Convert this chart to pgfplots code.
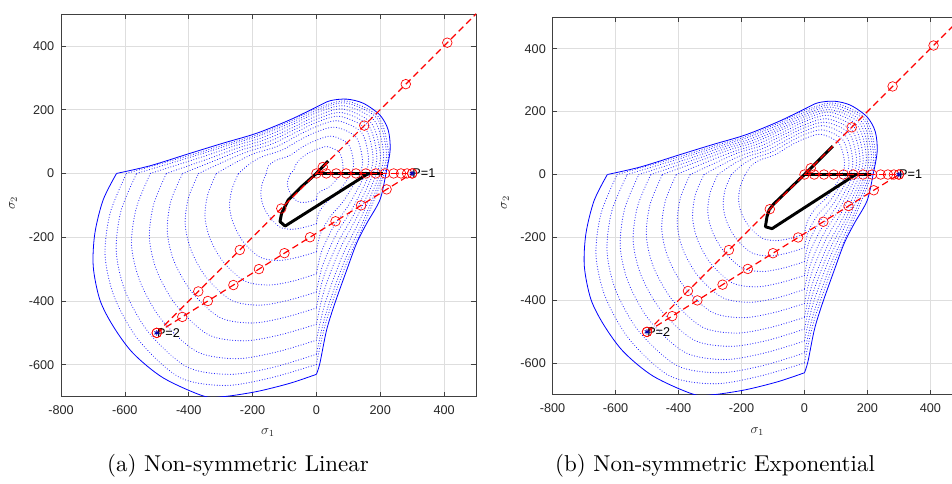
\documentclass[border=0pt]{standalone}
\usepackage{fontspec}
\usepackage{pgfplots}
\pgfplotsset{compat=1.18}
\usepackage{pgfplotstable}
\newfontfamily\helv{Liberation Sans}

% outer boundary, upper/right part and lower-left part
\pgfplotstableread{
x y
-626 0
-521 24
-396 63
-292 95
-187 126
-83 168
0 208
43 228
95 233
147 220
199 183
225 136
231 74
218 0
199 -83
158 -156
126 -219
95 -303
58 -407
32 -491
11 -595
0 -630
}\outerA
\pgfplotstableread{
x y
0 -630
-83 -658
-187 -684
-292 -700
-354 -698
-480 -641
-574 -564
-636 -480
-678 -397
-699 -292
-694 -188
-668 -83
-626 0
}\outerB
% load paths
\pgfplotstableread{
x y
-500 -500
-370 -370
-240 -240
-110 -110
20 20
150 150
280 280
410 410
540 540
}\redDiag
\pgfplotstableread{
x y
-500 -500
-420 -450
-340 -400
-260 -350
-180 -300
-100 -250
-20 -200
60 -150
140 -100
220 -50
300 0
}\redSlope
\pgfplotstableread{
x y
0 0
31 0
62 0
93 0
124 0
155 0
186 0
215 0
242 0
265 0
284 0
300 0
}\redFlat

\pgfplotsset{
  mlab/.style={
    scale only axis,
    xmin=-800, xmax=500, ymin=-700, ymax=500,
    xtick={-800,-600,...,400}, ytick={-600,-400,...,400},
    grid=major,
    grid style={draw=black!13, line width=0.45pt},
    axis line style={draw=black!75, line width=0.5pt},
    every tick/.style={draw=black!75, line width=0.5pt},
    major tick length=3.5pt,
    tick align=inside,
    ticklabel style={font=\helv\fontsize{9.5}{10}\selectfont, text=black!85},
    xticklabel style={yshift=-3pt},
    yticklabel style={xshift=-1.5pt},
    /pgf/number format/assume math mode=true,
  },
  cont/.style={blue!85, line width=0.85pt, line cap=round, dash pattern=on 0.01pt off 2pt, smooth, no marks},
  bnd/.style={blue, line width=0.6pt, smooth, no marks},
  blk/.style={black, line width=2.2pt, line join=round, no marks},
  rpath/.style={red, line width=0.9pt, dash pattern=on 5pt off 3pt, mark=o, mark size=3.6pt, mark options={solid, line width=0.5pt}},
  pmark/.style={only marks, blue!70!black, mark=asterisk, mark size=2pt, mark options={line width=0.7pt}},
}
\tikzset{plab/.style={anchor=west, inner sep=0pt, font=\helv\fontsize{9.5}{10}\selectfont}}

\begin{document}
\begin{tikzpicture}
\useasboundingbox (0,0) rectangle (714pt,363pt);
\clip (0,0) rectangle (714pt,363pt);

% ---------------- (a) linear
\begin{axis}[mlab, at={(45.75pt,65.5pt)}, anchor=south west, width=311.25pt, height=287pt]
\addplot[cont] coordinates {(-81,0)(-70,11)(-67,22)(-57,39)(-30,61)(0,75)(34,84)(72,66)(83,27)(79,0)(42,-41)(17,-54)(4,-64)(0,-82)};
\addplot[cont] coordinates {(0,-82)(-20,-88)(-39,-91)(-59,-88)(-76,-72)(-86,-53)(-91,-35)(-88,-17)(-81,0)};
\addplot[cont] coordinates {(-157,0)(-150,24)(-127,41)(-84,56)(-42,84)(0,104)(48,117)(100,92)(116,37)(109,0)(64,-63)(29,-93)(8,-123)(0,-158)};
\addplot[cont] coordinates {(0,-158)(-38,-169)(-75,-175)(-113,-169)(-146,-138)(-166,-103)(-174,-68)(-170,-33)(-157,0)};
\addplot[cont] coordinates {(-244,0)(-205,33)(-166,54)(-108,73)(-52,105)(0,130)(59,145)(124,114)(144,46)(136,0)(86,-85)(43,-136)(12,-191)(0,-246)};
\addplot[cont] coordinates {(0,-246)(-59,-263)(-117,-273)(-176,-263)(-228,-216)(-259,-160)(-272,-106)(-265,-51)(-244,0)};
\addplot[cont] coordinates {(-313,0)(-244,39)(-193,63)(-125,84)(-59,119)(0,147)(67,165)(141,129)(163,52)(154,0)(101,-99)(53,-168)(16,-246)(0,-315)};
\addplot[cont] coordinates {(0,-315)(-75,-338)(-150,-350)(-225,-337)(-292,-277)(-333,-205)(-349,-136)(-340,-65)(-313,0)};
\addplot[cont] coordinates {(-369,0)(-274,44)(-213,69)(-138,93)(-64,129)(0,160)(73,179)(153,141)(177,57)(167,0)(112,-111)(61,-193)(19,-290)(0,-372)};
\addplot[cont] coordinates {(0,-372)(-89,-398)(-177,-413)(-266,-398)(-345,-326)(-392,-242)(-411,-160)(-401,-77)(-369,0)};
\addplot[cont] coordinates {(-419,0)(-299,48)(-230,75)(-148,100)(-68,138)(0,170)(78,191)(163,150)(189,61)(178,0)(122,-120)(68,-216)(21,-329)(0,-422)};
\addplot[cont] coordinates {(0,-422)(-101,-452)(-201,-469)(-302,-452)(-391,-371)(-446,-275)(-467,-182)(-456,-87)(-419,0)};
\addplot[cont] coordinates {(-470,0)(-324,51)(-246,80)(-158,107)(-72,145)(0,180)(82,202)(172,158)(200,64)(189,0)(131,-129)(74,-237)(24,-368)(0,-473)};
\addplot[cont] coordinates {(0,-473)(-113,-506)(-225,-525)(-338,-506)(-438,-415)(-499,-308)(-523,-203)(-510,-98)(-470,0)};
\addplot[cont] coordinates {(-520,0)(-348,55)(-261,85)(-168,113)(-76,153)(0,190)(87,212)(181,167)(210,67)(199,0)(140,-138)(81,-259)(27,-408)(0,-523)};
\addplot[cont] coordinates {(0,-523)(-125,-560)(-249,-581)(-374,-559)(-485,-459)(-552,-340)(-579,-225)(-564,-108)(-520,0)};
\addplot[cont] coordinates {(-563,0)(-368,59)(-274,89)(-176,119)(-79,159)(0,197)(90,221)(189,174)(219,70)(207,0)(148,-146)(87,-277)(29,-442)(0,-567)};
\addplot[cont] coordinates {(0,-567)(-135,-608)(-270,-630)(-405,-607)(-526,-498)(-599,-369)(-627,-244)(-612,-117)(-563,0)};
\addplot[cont] coordinates {(-595,0)(-382,61)(-283,92)(-182,122)(-81,164)(0,203)(93,227)(194,178)(225,72)(213,0)(153,-151)(91,-290)(30,-466)(0,-599)};
\addplot[cont] coordinates {(0,-599)(-143,-641)(-285,-665)(-428,-640)(-555,-525)(-632,-390)(-662,-257)(-646,-124)(-595,0)};
\addplot[bnd] table {\outerA};
\addplot[bnd] table {\outerB};
\addplot[blk] coordinates {(37,39)(0,0)(-46,-41)(-88,-83)(-109,-125)(-114,-151)(-98,-165)(163,0)};
\addplot[blk] coordinates {(0,0)(210,0)};
\addplot[rpath] table {\redDiag};
\addplot[rpath] table {\redSlope};
\addplot[rpath] table {\redFlat};
\addplot[pmark] coordinates {(300,0)(-500,-500)};
\node[plab] at (axis cs:300,0) {P=1};
\node[plab] at (axis cs:-500,-500) {P=2};
\end{axis}

% ---------------- (b) exponential
\begin{axis}[mlab, at={(414.4pt,66.9pt)}, anchor=south west, width=307pt, height=283.2pt]
\addplot[cont] coordinates {(-188,0)(-170,27)(-142,46)(-93,63)(-45,92)(0,114)(52,128)(109,100)(127,41)(119,0)(72,-71)(34,-109)(10,-147)(0,-189)};
\addplot[cont] coordinates {(0,-189)(-45,-203)(-90,-210)(-135,-202)(-175,-166)(-200,-123)(-209,-81)(-204,-39)(-188,0)};
\addplot[cont] coordinates {(-232,0)(-197,31)(-161,52)(-105,71)(-50,102)(0,127)(58,142)(121,111)(141,45)(133,0)(83,-82)(41,-130)(12,-182)(0,-233)};
\addplot[cont] coordinates {(0,-233)(-56,-250)(-111,-259)(-167,-249)(-216,-205)(-246,-152)(-258,-100)(-252,-48)(-232,0)};
\addplot[cont] coordinates {(-275,0)(-223,35)(-178,58)(-116,78)(-55,111)(0,138)(63,155)(132,121)(153,49)(145,0)(93,-91)(47,-151)(14,-216)(0,-277)};
\addplot[cont] coordinates {(0,-277)(-66,-297)(-132,-308)(-198,-297)(-257,-243)(-293,-180)(-307,-119)(-299,-57)(-275,0)};
\addplot[cont] coordinates {(-319,0)(-247,39)(-195,63)(-127,85)(-59,120)(0,149)(68,166)(142,131)(165,53)(156,0)(102,-101)(54,-171)(16,-250)(0,-321)};
\addplot[cont] coordinates {(0,-321)(-77,-344)(-153,-357)(-230,-344)(-298,-282)(-339,-209)(-355,-138)(-347,-66)(-319,0)};
\addplot[cont] coordinates {(-363,0)(-270,43)(-211,69)(-136,92)(-63,128)(0,158)(72,177)(152,139)(176,56)(166,0)(111,-109)(60,-191)(19,-285)(0,-365)};
\addplot[cont] coordinates {(0,-365)(-87,-392)(-174,-406)(-261,-391)(-339,-321)(-386,-238)(-404,-157)(-394,-75)(-363,0)};
\addplot[cont] coordinates {(-407,0)(-293,47)(-225,73)(-146,98)(-67,135)(0,168)(77,188)(160,148)(186,60)(176,0)(119,-118)(66,-210)(21,-319)(0,-410)};
\addplot[cont] coordinates {(0,-410)(-98,-439)(-195,-455)(-293,-438)(-380,-359)(-432,-267)(-453,-176)(-442,-85)(-407,0)};
\addplot[cont] coordinates {(-451,0)(-315,50)(-240,78)(-154,104)(-70,143)(0,176)(81,198)(169,155)(196,63)(185,0)(128,-126)(72,-229)(23,-354)(0,-454)};
\addplot[cont] coordinates {(0,-454)(-108,-486)(-216,-504)(-324,-485)(-420,-398)(-479,-295)(-502,-195)(-490,-94)(-451,0)};
\addplot[cont] coordinates {(-488,0)(-333,53)(-252,82)(-162,109)(-73,148)(0,184)(84,206)(176,162)(204,65)(193,0)(135,-133)(77,-245)(25,-383)(0,-491)};
\addplot[cont] coordinates {(0,-491)(-117,-527)(-234,-546)(-351,-526)(-456,-431)(-519,-320)(-544,-211)(-530,-101)(-488,0)};
\addplot[cont] coordinates {(-526,0)(-351,56)(-263,86)(-169,114)(-76,154)(0,191)(87,214)(182,168)(212,68)(200,0)(141,-139)(82,-261)(27,-412)(0,-529)};
\addplot[cont] coordinates {(0,-529)(-126,-567)(-252,-588)(-378,-566)(-491,-465)(-559,-344)(-585,-228)(-571,-109)(-526,0)};
\addplot[cont] coordinates {(-563,0)(-368,59)(-274,89)(-176,119)(-79,159)(0,197)(90,221)(189,174)(219,70)(207,0)(148,-146)(87,-277)(29,-442)(0,-567)};
\addplot[cont] coordinates {(0,-567)(-135,-608)(-270,-630)(-405,-607)(-526,-498)(-599,-369)(-627,-244)(-612,-117)(-563,0)};
\addplot[cont] coordinates {(-595,0)(-382,61)(-283,92)(-182,122)(-81,164)(0,203)(93,227)(194,178)(225,72)(213,0)(153,-151)(91,-290)(30,-466)(0,-599)};
\addplot[cont] coordinates {(0,-599)(-143,-641)(-285,-665)(-428,-640)(-555,-525)(-632,-390)(-662,-257)(-646,-124)(-595,0)};
\addplot[bnd] table {\outerA};
\addplot[bnd] table {\outerB};
\addplot[blk] coordinates {(90,90)(0,0)(-98,-94)(-112,-112)(-119,-134)(-124,-166)(-103,-172)(163,0)};
\addplot[blk] coordinates {(0,0)(210,0)};
\addplot[rpath] table {\redDiag};
\addplot[rpath] table {\redSlope};
\addplot[rpath] table {\redFlat};
\addplot[pmark] coordinates {(300,0)(-500,-500)};
\node[plab] at (axis cs:300,0) {P=1};
\node[plab] at (axis cs:-500,-500) {P=2};
\end{axis}

% axis labels and captions
\begin{scope}[every node/.style={text=black!85, font=\fontsize{10}{11}\selectfont}]
\node at (201pt,38.5pt) {$\sigma_{1}$};
\node[rotate=90] at (9.75pt,210.75pt) {$\sigma_{2}$};
\node at (568pt,39pt) {$\sigma_{1}$};
\node[rotate=90] at (378.75pt,211pt) {$\sigma_{2}$};
\end{scope}
\node[scale=1.72] at (178.5pt,13.5pt) {\fontsize{10}{12}\selectfont (a) Non-symmetric Linear};
\node[scale=1.72] at (536.25pt,13.5pt) {\fontsize{10}{12}\selectfont (b) Non-symmetric Exponential};
\end{tikzpicture}
\end{document}
